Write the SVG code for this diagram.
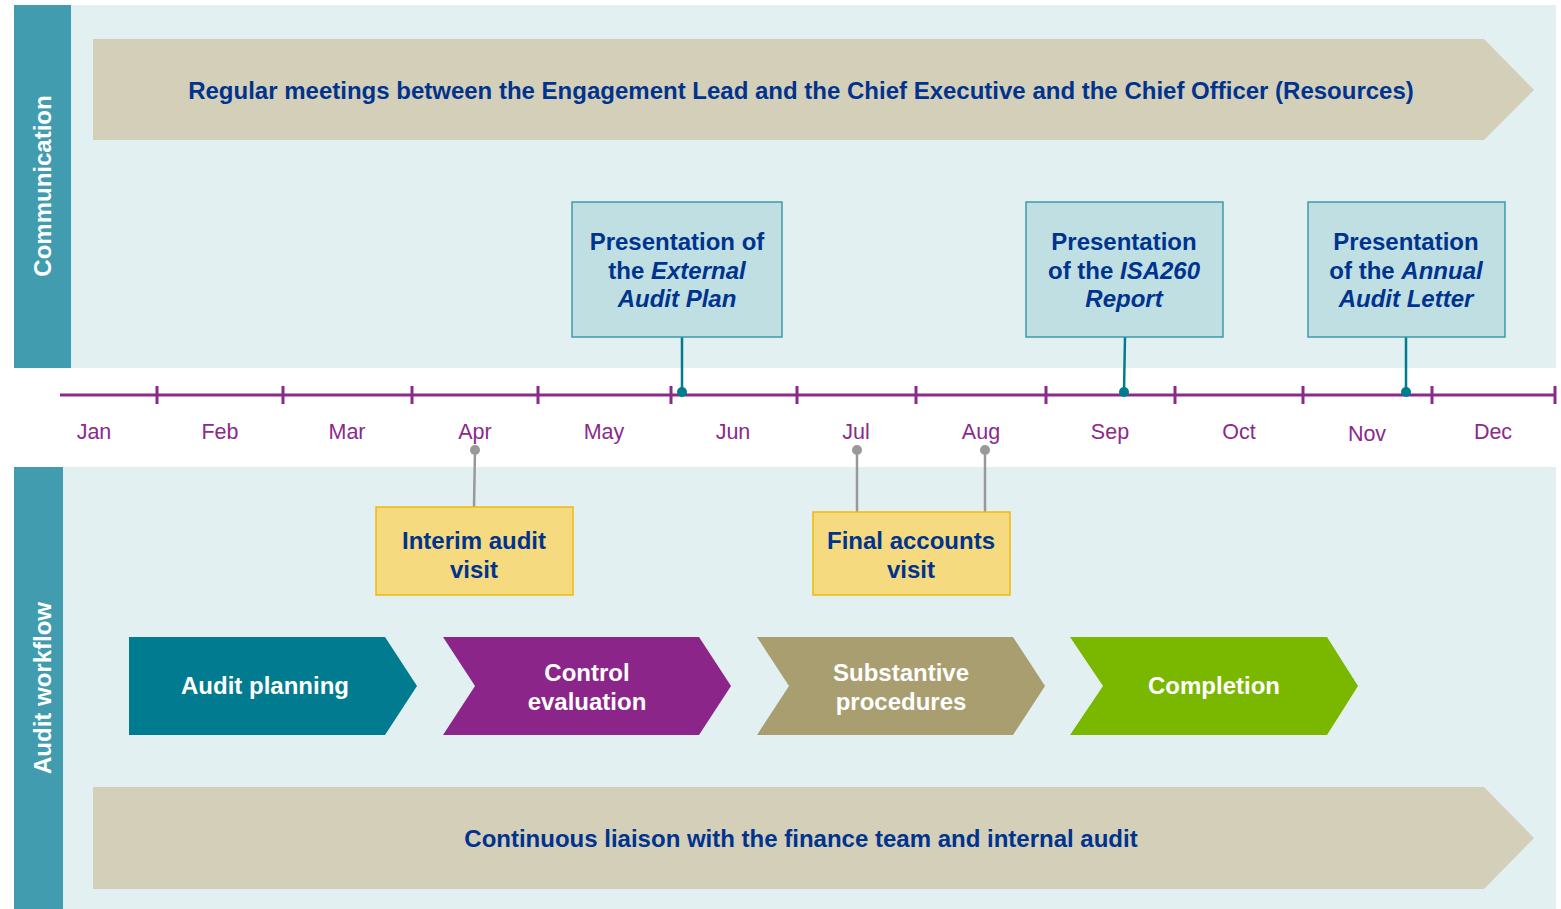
<svg xmlns="http://www.w3.org/2000/svg" width="1561" height="909" viewBox="0 0 1561 909">
<defs>
<style>
.bg{fill:#e2f0f2}
.side{fill:#419caf}
.sidet{font-family:"Liberation Sans",Arial,sans-serif;font-weight:bold;font-size:24px;fill:#fff;text-anchor:middle}
.banner{fill:#d4cfb9}
.navy{font-family:"Liberation Sans",Arial,sans-serif;font-weight:bold;fill:#00338d;text-anchor:middle}
.pbox{fill:#bfdfe3;stroke:#3e9aa8;stroke-width:1.5}
.ybox{fill:#f5da7f;stroke:#efb90f;stroke-width:1.5}
.month{font-family:"Liberation Sans",Arial,sans-serif;font-size:21.5px;fill:#8b2a8b;text-anchor:middle}
.wt{font-family:"Liberation Sans",Arial,sans-serif;font-weight:bold;font-size:24px;fill:#fff;text-anchor:middle}
.tl{stroke:#8b2a8b;stroke-width:3;fill:none}
.tc{stroke:#007c8e;stroke-width:2.5;fill:none}
.gc{stroke:#999;stroke-width:2.5;fill:none}
</style>
</defs>
<rect x="0" y="0" width="1561" height="909" fill="#fff"/>
<g id="communication-section">
<rect class="bg" x="71" y="5" width="1485" height="363"/>
<rect class="side" x="14" y="5" width="57" height="363"/>
<text class="sidet" transform="translate(51,186) rotate(-90)">Communication</text>
</g>
<g id="workflow-section">
<rect class="bg" x="63" y="467" width="1493" height="442"/>
<rect class="side" x="14" y="467" width="49" height="442"/>
<text class="sidet" transform="translate(51,688) rotate(-90)">Audit workflow</text>
</g>
<g id="regular-meetings">
<polygon class="banner" points="93,39 1484,39 1534,90 1484,140 93,140"/>
<text class="navy" x="801" y="99" font-size="24">Regular meetings between the Engagement Lead and the Chief Executive and the Chief Officer (Resources)</text>
</g>
<g id="timeline">
<line class="tl" x1="60" y1="395" x2="1556" y2="395"/>
<path class="tl" d="M157,386V404M283,386V404M412,386V404M538,386V404M671,386V404M797,386V404M916,386V404M1046,386V404M1175,386V404M1303,386V404M1432,386V404M1555,386V404"/>
<text class="month" x="94" y="439">Jan</text>
<text class="month" x="220" y="439">Feb</text>
<text class="month" x="347" y="439">Mar</text>
<text class="month" x="475" y="439">Apr</text>
<text class="month" x="604" y="439">May</text>
<text class="month" x="733" y="439">Jun</text>
<text class="month" x="856" y="439">Jul</text>
<text class="month" x="981" y="439">Aug</text>
<text class="month" x="1110" y="439">Sep</text>
<text class="month" x="1239" y="439">Oct</text>
<text class="month" x="1367" y="441">Nov</text>
<text class="month" x="1493" y="439">Dec</text>
</g>
<g id="connectors">
<line class="tc" x1="682" y1="337" x2="682" y2="392"/>
<circle cx="682" cy="392" r="5" fill="#007c8e"/>
<line class="tc" x1="1125" y1="337" x2="1124" y2="392"/>
<circle cx="1124" cy="392" r="5" fill="#007c8e"/>
<line class="tc" x1="1406" y1="337" x2="1406" y2="392"/>
<circle cx="1406" cy="392" r="5" fill="#007c8e"/>
<line class="gc" x1="475" y1="450" x2="474" y2="507"/>
<circle cx="475" cy="450" r="5" fill="#999"/>
<line class="gc" x1="857" y1="450" x2="857" y2="512"/>
<circle cx="857" cy="450" r="5" fill="#999"/>
<line class="gc" x1="985" y1="450" x2="985" y2="512"/>
<circle cx="985" cy="450" r="5" fill="#999"/>
</g>
<g id="external-audit-plan">
<rect class="pbox" x="572" y="202" width="210" height="135"/>
<text class="navy" font-size="24" x="677" y="250">Presentation of</text>
<text class="navy" font-size="24" x="677" y="279">the <tspan font-style="italic">External</tspan></text>
<text class="navy" font-size="24" x="677" y="307" font-style="italic">Audit Plan</text>
</g>
<g id="isa260-report">
<rect class="pbox" x="1026" y="202" width="197" height="135"/>
<text class="navy" font-size="24" x="1124" y="250">Presentation</text>
<text class="navy" font-size="24" x="1124" y="279">of the <tspan font-style="italic">ISA260</tspan></text>
<text class="navy" font-size="24" x="1124" y="307" font-style="italic">Report</text>
</g>
<g id="annual-audit-letter">
<rect class="pbox" x="1308" y="202" width="197" height="135"/>
<text class="navy" font-size="24" x="1406" y="250">Presentation</text>
<text class="navy" font-size="24" x="1406" y="279">of the <tspan font-style="italic">Annual</tspan></text>
<text class="navy" font-size="24" x="1406" y="307" font-style="italic">Audit Letter</text>
</g>
<g id="interim-audit-visit">
<rect class="ybox" x="376" y="507" width="197" height="88"/>
<text class="navy" font-size="24" x="474" y="549">Interim audit</text>
<text class="navy" font-size="24" x="474" y="578">visit</text>
</g>
<g id="final-accounts-visit">
<rect class="ybox" x="813" y="512" width="197" height="83"/>
<text class="navy" font-size="24" x="911" y="549">Final accounts</text>
<text class="navy" font-size="24" x="911" y="578">visit</text>
</g>
<g id="audit-planning">
<polygon points="129,637 385,637 417,686 385,735 129,735" fill="#007b8f"/>
<text class="wt" x="265" y="694">Audit planning</text>
</g>
<g id="control-evaluation">
<polygon points="443,637 699,637 731,686 699,735 443,735 475,686" fill="#8b2589"/>
<text class="wt" x="587" y="681">Control</text>
<text class="wt" x="587" y="710">evaluation</text>
</g>
<g id="substantive-procedures">
<polygon points="757,637 1013,637 1045,686 1013,735 757,735 789,686" fill="#a89e6f"/>
<text class="wt" x="901" y="681">Substantive</text>
<text class="wt" x="901" y="710">procedures</text>
</g>
<g id="completion">
<polygon points="1070,637 1327,637 1358,686 1327,735 1070,735 1103,686" fill="#7ab800"/>
<text class="wt" x="1214" y="694">Completion</text>
</g>
<g id="continuous-liaison">
<polygon class="banner" points="93,787 1484,787 1534,838 1484,889 93,889"/>
<text class="navy" x="801" y="847" font-size="24">Continuous liaison with the finance team and internal audit</text>
</g>
</svg>
